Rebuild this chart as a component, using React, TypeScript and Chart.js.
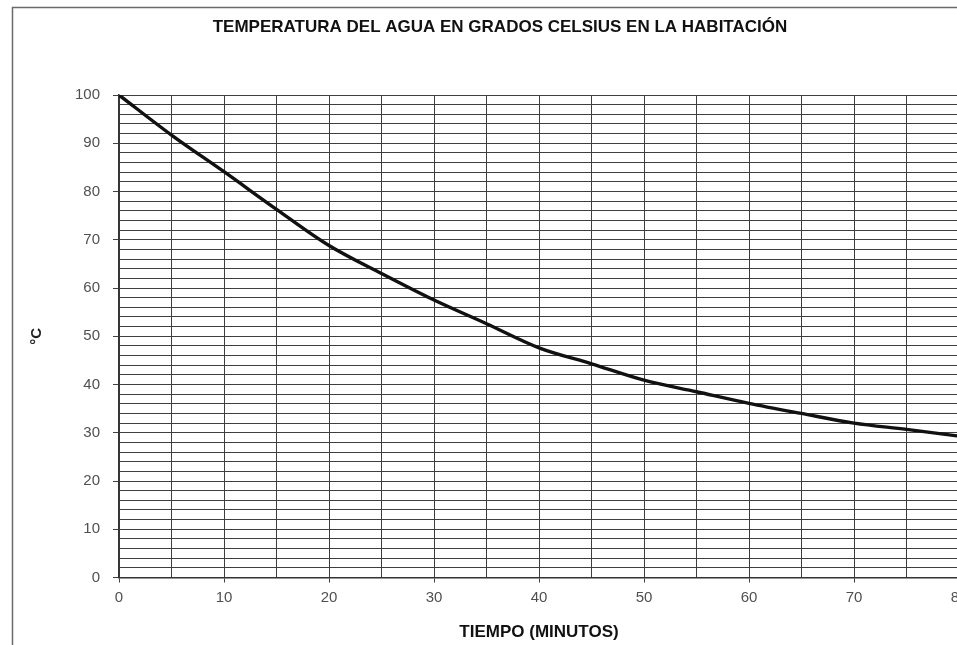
import React, { useEffect, useRef } from "react";
import { Chart, registerables } from "chart.js";

Chart.register(...registerables);

const chartTitle = "TEMPERATURA DEL AGUA EN GRADOS CELSIUS EN LA HABITACIÓN";
const xAxisTitle = "TIEMPO (MINUTOS)";
const yAxisTitle = "°C";

const minutes = [0, 5, 10, 15, 20, 25, 30, 35, 40, 45, 50, 55, 60, 65, 70, 75, 80];
const temperatures = [100, 91.7, 84.1, 76.3, 68.8, 63, 57.5, 52.6, 47.6, 44.3, 40.9, 38.5, 36.1, 34, 32, 30.7, 29.3];

const xMin = 0;
const xMax = 80;
const xStep = 5;
const xLabelEvery = 10;
const yMin = 0;
const yMax = 100;
const yStep = 2;
const yLabelEvery = 10;

const FONT = "'Liberation Sans', Arial, sans-serif";
const GRID = "#3f3f3f";

const framePlugin = {
  id: "frame",
  beforeDraw(chart: any) {
    const ctx = chart.ctx;
    ctx.save();
    ctx.fillStyle = "#ffffff";
    ctx.fillRect(0, 0, chart.width, chart.height);
    ctx.strokeStyle = "#6a6a6a";
    ctx.lineWidth = 1.5;
    ctx.beginPath();
    ctx.moveTo(12.5, chart.height);
    ctx.lineTo(12.5, 7.5);
    ctx.lineTo(chart.width, 7.5);
    ctx.stroke();
    ctx.restore();
  },
};

export default function App() {
  const ref = useRef<HTMLCanvasElement | null>(null);

  useEffect(() => {
    if (!ref.current) return;
    const points = minutes.map((m, i) => ({ x: m, y: temperatures[i] }));
    const chart = new Chart(ref.current, {
      type: "line",
      data: {
        datasets: [
          {
            data: points,
            borderColor: "#111111",
            borderWidth: 3.4,
            pointRadius: 0,
            cubicInterpolationMode: "monotone",
            fill: false,
          },
        ],
      },
      options: {
        animation: false,
        responsive: false,
        devicePixelRatio: 1,
        layout: { padding: { left: 20, right: 0, top: 0, bottom: 0 } },
        plugins: {
          legend: { display: false },
          tooltip: { enabled: false },
          title: {
            display: true,
            text: chartTitle,
            color: "#111111",
            font: { family: FONT, size: 17, weight: "bold" },
            padding: { top: 16.8, bottom: 57.8 },
          },
        },
        scales: {
          x: {
            type: "linear",
            min: xMin,
            max: xMax,
            afterFit(scale: any) {
              scale.height = 67.5;
              scale.paddingRight = 21;
              scale.paddingLeft = 0;
            },
            ticks: {
              stepSize: xStep,
              autoSkip: false,
              maxRotation: 0,
              color: "#505050",
              padding: 6,
              font: { family: FONT, size: 15 },
              callback: (v: any) => (Number(v) % xLabelEvery === 0 ? String(v) : ""),
            },
            grid: {
              color: GRID,
              lineWidth: 1,
              tickLength: 5,
              tickColor: (c: any) => (c.tick && c.tick.value % xLabelEvery === 0 ? GRID : "rgba(0,0,0,0)"),
            },
            border: { color: "#333333", width: 1.5 },
            title: {
              display: true,
              text: xAxisTitle,
              color: "#111111",
              font: { family: FONT, size: 17, weight: "bold" },
              padding: { top: 0, bottom: 2.8 },
            },
          },
          y: {
            type: "linear",
            min: yMin,
            max: yMax,
            afterFit(scale: any) {
              scale.width = 99;
            },
            ticks: {
              stepSize: yStep,
              autoSkip: false,
              color: "#505050",
              padding: 13,
              font: { family: FONT, size: 15 },
              callback: (v: any) => (Number(v) % yLabelEvery === 0 ? String(v) : ""),
            },
            grid: {
              color: GRID,
              lineWidth: 1,
              tickLength: 6,
              tickColor: (c: any) => (c.tick && c.tick.value % yLabelEvery === 0 ? GRID : "rgba(0,0,0,0)"),
            },
            border: { color: "#333333", width: 1.5 },
            title: {
              display: true,
              text: yAxisTitle,
              color: "#222222",
              font: { family: FONT, size: 15, weight: "bold" },
              padding: { top: 8, bottom: 0 },
            },
          },
        },
      },
      plugins: [framePlugin],
    });
    return () => chart.destroy();
  }, []);

  return (
    <div
      style={{
        position: "fixed",
        left: 0,
        top: 0,
        width: 957,
        height: 645,
        overflow: "hidden",
        background: "#ffffff",
      }}
    >
      <canvas ref={ref} width={980} height={645} style={{ display: "block", width: 980, height: 645 }} />
    </div>
  );
}
